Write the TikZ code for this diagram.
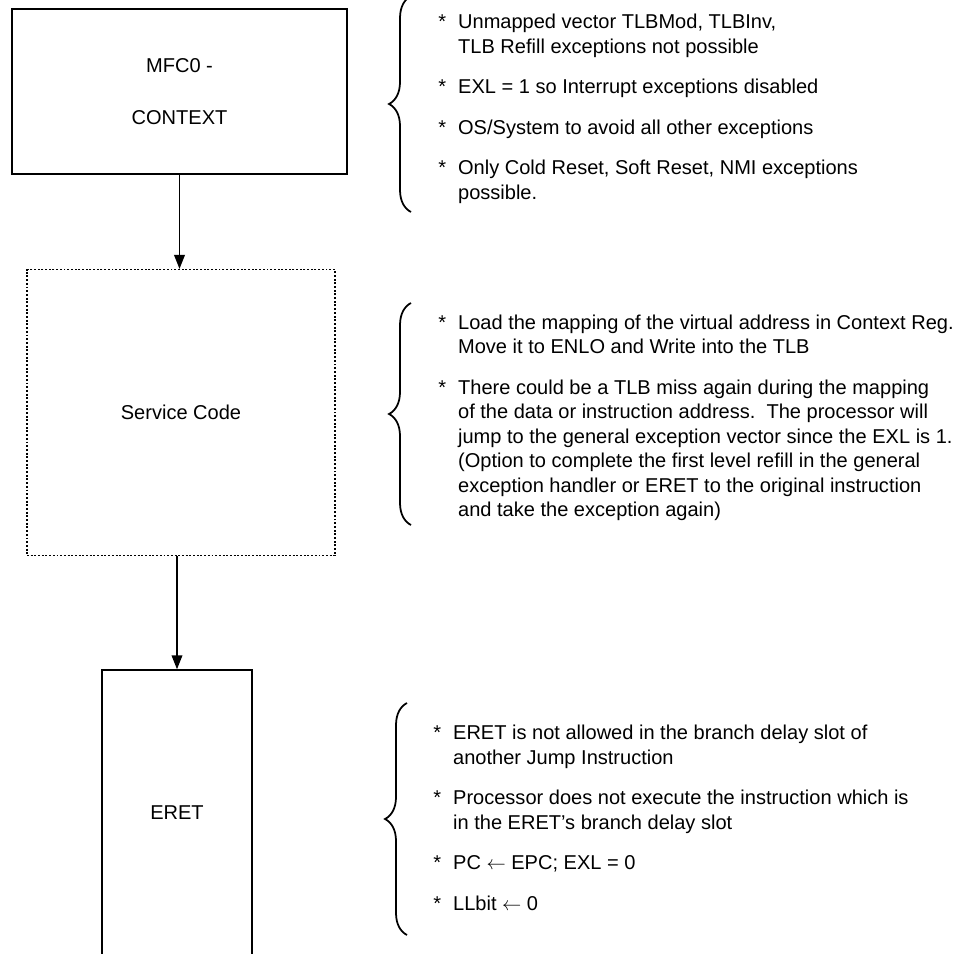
\documentclass[tikz,border=0pt]{standalone}
\usepackage{fontspec}
\setmainfont{Liberation Sans}
\usetikzlibrary{positioning,arrows.meta,decorations.pathreplacing}

\newcommand{\notefont}{\fontsize{11.4pt}{13.95pt}\selectfont}

\begin{document}
\begin{tikzpicture}[
    box/.style={rectangle, draw, line width=1.1pt, align=center, font=\notefont},
    dotbox/.style={box, densely dotted, line width=0.8pt},
    arr/.style={-{Triangle[length=2.8mm,width=2.1mm]}, line width=1.1pt},
    brc/.style={decorate, decoration={brace, amplitude=4.4mm}, line width=1pt},
    note/.style={inner sep=0pt, anchor=west, font=\notefont}]
  \useasboundingbox (0,0) rectangle (191.2mm,-190.6mm);
  % flow on the left
  \node[box, minimum width=67mm, minimum height=33mm] (mfc) at (35.9mm,-18.3mm) {\rule{0pt}{1.2mm}MFC0 -\\[5.5mm]CONTEXT};
  \node[dotbox, minimum width=61.6mm, minimum height=57.2mm, below=18.8mm of mfc, xshift=0.3mm] (svc) {Service Code};
  \node[box, minimum width=30mm, minimum height=57mm, below=22.6mm of svc, xshift=-0.8mm] (eret) {ERET};
  \draw[arr] (mfc) -- (mfc |- svc.north);
  \draw[arr] (eret |- svc.south) -- (eret);
  % notes on the right
  \draw[brc] (82.2mm,-42.4mm) coordinate (b1b) -- (82.2mm,0.8mm) coordinate (b1t);
  \draw[brc] (82.2mm,-105mm) coordinate (b2b) -- (82.2mm,-60.6mm) coordinate (b2t);
  \draw[brc] (81.4mm,-187mm) coordinate (b3b) -- (81.4mm,-140.6mm) coordinate (b3t);
  \node[note] (n1) at (87.6mm,-21.8mm) {\begin{tabular}{@{}l@{\hspace{2.4mm}}l@{}}
    * & Unmapped vector TLBMod, TLBInv,\\
      & TLB Refill exceptions not possible\\[3.2mm]
    * & EXL = 1 so Interrupt exceptions disabled\\[3.2mm]
    * & OS/System to avoid all other exceptions\\[3.2mm]
    * & Only Cold Reset, Soft Reset, NMI exceptions\\
      & possible.
  \end{tabular}};
  \node[note] (n2) at (87.6mm,-83.6mm) {\begin{tabular}{@{}l@{\hspace{2.4mm}}l@{}}
    * & Load the mapping of the virtual address in Context Reg.\\
      & Move it to ENLO and Write into the TLB\\[3.2mm]
    * & There could be a TLB miss again during the mapping\\
      & of the data or instruction address.\ \ The processor will\\
      & jump to the general exception vector since the EXL is 1.\\
      & (Option to complete the first level refill in the general\\
      & exception handler or ERET to the original instruction\\
      & and take the exception again)
  \end{tabular}};
  \node[note] (n3) at (86.6mm,-164mm) {\begin{tabular}{@{}l@{\hspace{2.4mm}}l@{}}
    * & ERET is not allowed in the branch delay slot of\\
      & another Jump Instruction\\[3.2mm]
    * & Processor does not execute the instruction which is\\
      & in the ERET’s branch delay slot\\[3.2mm]
    * & PC $\leftarrow$ EPC; EXL = 0\\[3.2mm]
    * & LLbit $\leftarrow$ 0
  \end{tabular}};
\end{tikzpicture}
\end{document}
